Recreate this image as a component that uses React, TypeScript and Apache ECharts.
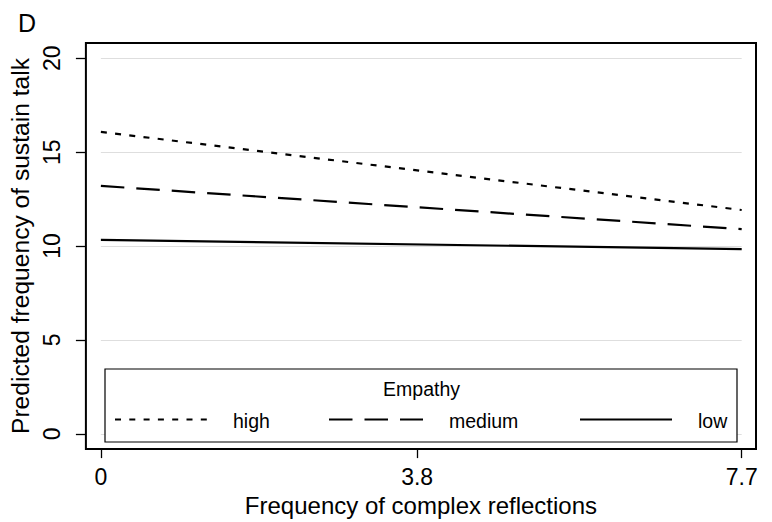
import React, { useEffect, useRef } from "react";
import * as echarts from "echarts";

const xTicks = [0, 3.8, 7.7];
const yTicks = [0, 5, 10, 15, 20];
const gridValues = [0, 5, 10, 15, 20];
const xEnds = [0, 7.7];
const highValues = [16.08, 11.92];
const mediumValues = [13.2, 10.9];
const lowValues = [10.33, 9.84];
const legendTitle = "Empathy";
const legendLabels = ["high", "medium", "low"];

const FONT = "Liberation Sans, Arial, Helvetica, sans-serif";
const HIGH_DASH = [6, 8.3];
const MED_DASH = [23.5, 12];

function pairs(vals: number[]) {
  return xEnds.map((x, i) => [x, vals[i]]);
}

function legendText(text: string, x: number, y: number, align: string) {
  return {
    type: "text",
    z: 100,
    x,
    y,
    style: {
      text,
      fill: "#000",
      fontFamily: FONT,
      fontSize: 19.5,
      align,
      verticalAlign: "middle",
    },
  };
}

export default function App() {
  const ref = useRef<HTMLDivElement>(null);
  useEffect(() => {
    if (!ref.current) return;
    const chart = echarts.init(ref.current, undefined, { renderer: "svg" });
    const labelStyle = { color: "#000", fontFamily: FONT, fontSize: 23 };
    chart.setOption({
      animation: false,
      backgroundColor: "#fff",
      grid: {
        left: 85,
        top: 43,
        width: 671,
        height: 408,
        show: true,
        borderColor: "#000",
        borderWidth: 2,
        backgroundColor: "transparent",
      },
      xAxis: {
        type: "value",
        min: -0.18,
        max: 7.872,
        name: "Frequency of complex reflections",
        nameLocation: "middle",
        nameGap: 40,
        nameTextStyle: { ...labelStyle, fontSize: 24 },
        axisLine: { show: false, onZero: false },
        splitLine: { show: false },
        axisTick: {
          show: true,
          length: 9,
          customValues: xTicks,
          lineStyle: { color: "#000", width: 1.3 },
        },
        axisLabel: {
          ...labelStyle,
          customValues: xTicks,
          margin: 16,
          formatter: (v: number) => String(v),
        },
      },
      yAxis: {
        type: "value",
        min: -0.81,
        max: 20.81,
        name: "Predicted frequency of sustain talk",
        nameLocation: "middle",
        nameGap: 45,
        nameTextStyle: { ...labelStyle, fontSize: 24.6 },
        axisLine: { show: false, onZero: false },
        splitLine: { show: false },
        axisTick: {
          show: true,
          length: 10,
          customValues: yTicks,
          lineStyle: { color: "#000", width: 1.3 },
        },
        axisLabel: {
          ...labelStyle,
          customValues: yTicks,
          rotate: 90,
          margin: 22,
          formatter: (v: number) => String(v),
        },
      },
      series: [
        {
          name: "grid",
          type: "line",
          data: [],
          silent: true,
          z: 1,
          markLine: {
            silent: true,
            symbol: "none",
            z: 1,
            label: { show: false },
            lineStyle: { color: "#dedede", width: 1, type: "solid" },
            data: gridValues.map((v) => [
              { coord: [xEnds[0], v] },
              { coord: [xEnds[1], v] },
            ]),
          },
        },
        {
          name: legendLabels[0],
          type: "line",
          data: pairs(highValues),
          symbol: "none",
          z: 3,
          lineStyle: { color: "#000", width: 2.2, type: HIGH_DASH },
        },
        {
          name: legendLabels[1],
          type: "line",
          data: pairs(mediumValues),
          symbol: "none",
          z: 3,
          lineStyle: { color: "#000", width: 2.2, type: MED_DASH },
        },
        {
          name: legendLabels[2],
          type: "line",
          data: pairs(lowValues),
          symbol: "none",
          z: 3,
          lineStyle: { color: "#000", width: 2.2, type: "solid" },
        },
      ],
      graphic: [
        {
          type: "text",
          x: 18,
          y: 23,
          z: 100,
          style: {
            text: "D",
            fill: "#000",
            fontFamily: FONT,
            fontSize: 25,
            align: "left",
            verticalAlign: "middle",
          },
        },
        {
          type: "rect",
          z: 100,
          shape: { x: 105, y: 369, width: 632, height: 73 },
          style: { fill: "#fff", stroke: "#000", lineWidth: 1.2 },
        },
        legendText(legendTitle, 421.5, 389, "center"),
        {
          type: "line",
          z: 101,
          shape: { x1: 115, y1: 419.5, x2: 207, y2: 419.5 },
          style: { stroke: "#000", lineWidth: 2.2, lineDash: HIGH_DASH },
        },
        legendText(legendLabels[0], 233, 421, "left"),
        {
          type: "line",
          z: 101,
          shape: { x1: 329, y1: 419.5, x2: 423, y2: 419.5 },
          style: { stroke: "#000", lineWidth: 2.2, lineDash: MED_DASH },
        },
        legendText(legendLabels[1], 449, 421, "left"),
        {
          type: "line",
          z: 101,
          shape: { x1: 580, y1: 419.5, x2: 672, y2: 419.5 },
          style: { stroke: "#000", lineWidth: 2.2 },
        },
        legendText(legendLabels[2], 698, 421, "left"),
      ],
    });
    return () => chart.dispose();
  }, []);
  return (
    <div
      ref={ref}
      style={{ position: "fixed", left: 0, top: 0, width: 772, height: 522, background: "#fff" }}
    />
  );
}
